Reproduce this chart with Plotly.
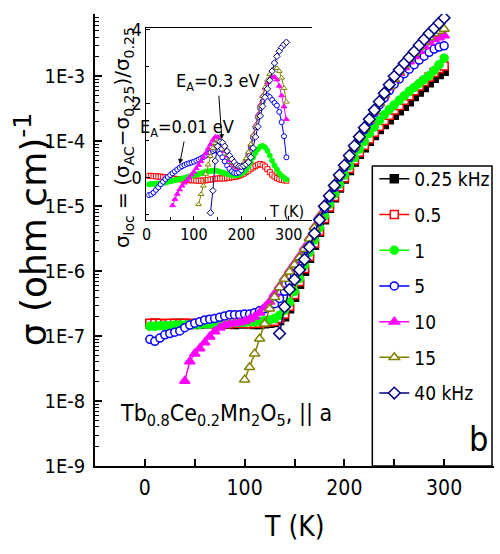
import plotly.graph_objects as go

NARROW = "Liberation Sans Narrow, Arial Narrow, DejaVu Sans Condensed, sans-serif"
WIDE = "DejaVu Sans, Liberation Sans, sans-serif"

# ---------------- main panel data: log10(sigma) vs T ----------------
T_MAIN = [5, 10, 15, 20, 25, 30, 35, 40, 45, 50, 55, 60, 65, 70, 75, 80, 85, 90, 95, 100,
          105, 110, 115, 120, 125, 130, 135, 140, 145, 150, 155, 160, 165, 170, 175, 180, 185, 190, 195, 200,
          205, 210, 215, 220, 225, 230, 235, 240, 245, 250, 255, 260, 265, 270, 275, 280, 285, 290, 295, 300]

LOG_S_025 = [-6.81, -6.80, -6.81, -6.81, -6.82, -6.81, -6.80, -6.81, -6.81, -6.82, -6.81, -6.81, -6.80, -6.81, -6.82,
             -6.81, -6.81, -6.82, -6.81, -6.81, -6.81, -6.82, -6.82, -6.81, -6.80,
             -6.79, -6.76, -6.70, -6.58, -6.40, -6.20, -6.00, -5.80, -5.60, -5.40, -5.21, -5.03, -4.87, -4.72, -4.58,
             -4.45, -4.32, -4.20, -4.10, -4.00, -3.91, -3.82, -3.74, -3.67, -3.60, -3.53, -3.46, -3.39, -3.31, -3.24,
             -3.17, -3.10, -3.03, -2.97, -2.92]
LOG_S_05 = [-6.80, -6.80, -6.80, -6.81, -6.80, -6.80, -6.81, -6.80, -6.80, -6.81, -6.80, -6.80, -6.80, -6.81, -6.80,
            -6.80, -6.81, -6.80, -6.80, -6.80, -6.81, -6.80, -6.80, -6.79, -6.78,
            -6.77, -6.73, -6.66, -6.54, -6.36, -6.16, -5.96, -5.77, -5.57, -5.38, -5.19, -5.01, -4.85, -4.70, -4.56,
            -4.42, -4.29, -4.17, -4.06, -3.96, -3.86, -3.77, -3.68, -3.60, -3.52, -3.45, -3.37, -3.30, -3.22, -3.15,
            -3.08, -3.01, -2.94, -2.88, -2.84]
LOG_S_1 = [-6.85, -6.85, -6.84, -6.84, -6.84, -6.83, -6.83, -6.83, -6.82, -6.82, -6.82, -6.81, -6.81, -6.81, -6.80,
           -6.80, -6.80, -6.79, -6.79, -6.79, -6.78, -6.78, -6.77, -6.76, -6.75,
           -6.73, -6.68, -6.60, -6.48, -6.31, -6.11, -5.91, -5.71, -5.52, -5.33, -5.15, -4.97, -4.81, -4.66, -4.52,
           -4.38, -4.25, -4.12, -4.00, -3.88, -3.78, -3.68, -3.59, -3.51, -3.44, -3.37, -3.30, -3.23, -3.17, -3.11,
           -3.05, -2.99, -2.91, -2.82, -2.72]
LOG_S_5 = [-7.05, -7.08, -7.03, -6.98, -6.96, -6.94, -6.92, -6.87, -6.83, -6.80, -6.78, -6.75, -6.74, -6.73, -6.71,
           -6.69, -6.67, -6.67, -6.67, -6.66, -6.66, -6.64, -6.61, -6.58, -6.55,
           -6.50, -6.42, -6.31, -6.18, -6.05, -5.92, -5.77, -5.60, -5.42, -5.23, -5.04, -4.87, -4.71, -4.55, -4.40,
           -4.25, -4.10, -3.96, -3.82, -3.69, -3.56, -3.44, -3.33, -3.22, -3.12, -3.04, -2.96, -2.89, -2.82, -2.75,
           -2.69, -2.63, -2.58, -2.55, -2.53]
LOG_S_10 = [-7.69, -7.39, -7.27, -7.19, -7.10, -7.01, -6.93, -6.87, -6.83, -6.81,
            -6.80, -6.79, -6.77, -6.74, -6.70, -6.64, -6.56, -6.47, -6.35, -6.23,
            -6.11, -5.99, -5.88, -5.77, -5.64, -5.49, -5.32, -5.15, -4.98, -4.82,
            -4.67, -4.52, -4.38, -4.23, -4.09, -3.95, -3.81, -3.68, -3.55, -3.42,
            -3.29, -3.17, -3.05, -2.95, -2.86, -2.77, -2.69, -2.61, -2.54, -2.48,
            -2.43, -2.40, -2.37]
LOG_S_15 = [-7.67, -7.48, -7.27, -7.04, -6.81, -6.58, -6.40, -6.25, -6.12, -6.01,
            -5.90, -5.79, -5.66, -5.50, -5.33, -5.16, -4.99, -4.83, -4.68, -4.53,
            -4.38, -4.23, -4.09, -3.95, -3.81, -3.67, -3.54, -3.41, -3.28, -3.16,
            -3.04, -2.93, -2.83, -2.73, -2.64, -2.55, -2.47, -2.40, -2.34, -2.30, -2.27]
LOG_S_40 = [-6.96, -6.55, -6.28,
            -6.13, -5.98, -5.82, -5.63, -5.42, -5.21, -5.00, -4.84, -4.68, -4.52,
            -4.37, -4.22, -4.07, -3.93, -3.79, -3.66, -3.52, -3.39, -3.26, -3.13,
            -3.00, -2.90, -2.80, -2.71, -2.62, -2.52, -2.43, -2.34, -2.26, -2.18, -2.10]

# ---------------- inset data: (sigma_AC - sigma_0.25)/sigma_0.25 ----------------
T_INSET = [5, 10, 15, 20, 25, 30, 35, 40, 45, 50, 55, 60, 65, 70, 75, 80, 85, 90, 95, 100,
           105, 110, 115, 120, 125, 130, 135, 140, 145, 150, 155, 160, 165, 170, 175, 180, 185, 190, 195, 200,
           205, 210, 215, 220, 225, 230, 235, 240, 245, 250, 255, 260, 265, 270, 275, 280, 285, 290, 295]

LOC_05 = [0.05, 0.05, 0.04, 0.04, 0.03, 0.03, 0.02, 0.01, 0.00, -0.01, -0.02, -0.03, -0.04, -0.04, -0.05,
          -0.05, -0.06, -0.07, -0.07, -0.07, -0.08, -0.08, -0.08, -0.08, -0.07, -0.06, -0.05, -0.04, -0.03, -0.02,
          -0.02, -0.02, -0.02, -0.01, 0.00, 0.01, 0.02, 0.03, 0.05, 0.08, 0.11, 0.15, 0.19, 0.24, 0.28,
          0.32, 0.35, 0.37, 0.35, 0.30, 0.23, 0.15, 0.08, 0.03, -0.01, -0.04, -0.06, -0.07, -0.08]
LOC_1 = [-0.18, -0.17, -0.17, -0.16, -0.16, -0.15, -0.14, -0.13, -0.11, -0.10, -0.08, -0.07, -0.05, -0.04, -0.02,
         -0.01, 0.01, 0.03, 0.05, 0.06, 0.08, 0.10, 0.12, 0.14, 0.16, 0.17, 0.18, 0.19, 0.19, 0.18,
         0.16, 0.14, 0.12, 0.10, 0.08, 0.07, 0.06, 0.06, 0.08, 0.11, 0.15, 0.20, 0.30, 0.42, 0.55,
         0.67, 0.77, 0.84, 0.86, 0.82, 0.73, 0.60, 0.46, 0.33, 0.22, 0.12, 0.05, 0.00, -0.05]
LOC_5 = [-0.47, -0.45, -0.40, -0.33, -0.26, -0.18, -0.11, -0.04, 0.02, 0.07, 0.12, 0.17, 0.22, 0.27, 0.31,
         0.34, 0.37, 0.39, 0.41, 0.43, 0.46, 0.49, 0.52, 0.56, 0.60, 0.64, 0.68, 0.72, 0.74, 0.72,
         0.65, 0.55, 0.44, 0.33, 0.24, 0.17, 0.13, 0.12, 0.14, 0.20, 0.30, 0.43, 0.60, 0.82, 1.08,
         1.36, 1.63, 1.88, 2.06, 2.18, 2.22, 2.18, 2.10, 2.02, 1.95, 1.78, 1.50, 1.12, 0.55]
LOC_10 = [-0.75, -0.58, -0.44, -0.32, -0.22, -0.14, -0.07, 0.00, 0.08, 0.16,
          0.25, 0.34, 0.44, 0.55, 0.66, 0.78, 0.90, 1.02, 1.10, 1.10,
          1.00, 0.86, 0.72, 0.59, 0.47, 0.38, 0.31, 0.27, 0.26, 0.29,
          0.37, 0.50, 0.68, 0.90, 1.15, 1.42, 1.70, 1.97, 2.22, 2.42,
          2.57, 2.67, 2.72, 2.72, 2.65, 2.48, 2.22, 1.92, 1.58]
LOC_15 = [-0.72, -0.45, -0.22, 0.10, 0.35, 0.58, 0.80, 0.93, 0.99, 0.97,
          0.88, 0.76, 0.63, 0.52, 0.42, 0.35, 0.30, 0.29, 0.32, 0.40,
          0.52, 0.69, 0.90, 1.14, 1.40, 1.67, 1.94, 2.20, 2.44, 2.64,
          2.80, 2.91, 2.96, 2.96, 2.88, 2.70, 2.42, 2.05]
LOC_40 = [-0.95, -0.35, 0.45, 0.85, 0.97, 0.95, 0.85, 0.72, 0.60, 0.50,
          0.42, 0.34, 0.31, 0.30, 0.32, 0.36, 0.42, 0.55, 0.80, 1.10,
          1.38, 1.67, 1.93, 2.17, 2.40, 2.63, 2.88, 3.10, 3.28, 3.42,
          3.52, 3.60, 3.66]

NAMES = ["0.25 kHz", "0.5", "1", "5", "10", "15", "40 kHz"]
COLORS = ["#000000", "#ff0000", "#00ff00", "#0000ff", "#ff00ff", "#808000", "#000080"]
SYMBOLS = ["square", "square", "circle", "circle", "triangle-up", "triangle-up", "diamond"]
FILLED = [True, False, True, False, True, False, False]
SIZES = [8, 8, 8, 8, 9, 9, 9]

main_T = [T_MAIN, T_MAIN, T_MAIN, T_MAIN, T_MAIN[7:], T_MAIN[19:], T_MAIN[26:]]
main_logs = [LOG_S_025, LOG_S_05, LOG_S_1, LOG_S_5, LOG_S_10, LOG_S_15, LOG_S_40]

inset_idx = [1, 2, 3, 4, 5, 6]
inset_T = [T_INSET, T_INSET, T_INSET, T_INSET[10:], T_INSET[21:], T_INSET[26:]]
inset_vals = [LOC_05, LOC_1, LOC_5, LOC_10, LOC_15, LOC_40]

fig = go.Figure()

for i in range(7):
    col = COLORS[i]
    fill = col if FILLED[i] else "white"
    fig.add_trace(go.Scatter(
        x=main_T[i], y=[10 ** v for v in main_logs[i]],
        mode="lines+markers", name=NAMES[i], legendgroup=NAMES[i],
        line=dict(color=col, width=1.5),
        marker=dict(symbol=SYMBOLS[i], size=SIZES[i], color=fill, line=dict(color=col, width=1.5)),
        xaxis="x", yaxis="y", showlegend=True))

for k, i in enumerate(inset_idx):
    col = COLORS[i]
    fill = col if FILLED[i] else "white"
    fig.add_trace(go.Scatter(
        x=inset_T[k], y=inset_vals[k], mode="lines+markers",
        line=dict(color=col, width=1),
        marker=dict(symbol=SYMBOLS[i], size=5, color=fill, line=dict(color=col, width=1)),
        xaxis="x2", yaxis="y2", showlegend=False, hoverinfo="skip"))

minor_y = [m * 10 ** e for e in range(-9, -2) for m in range(2, 10)]

fig.update_layout(
    width=500, height=554,
    margin=dict(l=95, r=5, t=8, b=88),
    paper_bgcolor="white", plot_bgcolor="white",
    font=dict(family=NARROW, color="black"),
    xaxis=dict(range=[-50, 350], showline=True, linecolor="black", linewidth=1.5,
               ticks="inside", ticklen=7, tickwidth=1.5, tickcolor="black",
               tickmode="array", tickvals=[0, 100, 200, 300],
               minor=dict(tickmode="array", tickvals=[50, 150, 250], ticks="inside", ticklen=7,
                          tickwidth=1.5, tickcolor="black", showgrid=False),
               showgrid=False, zeroline=False, ticklabelstandoff=2,
               tickfont=dict(family=NARROW, size=21, color="black")),
    yaxis=dict(type="log", range=[-9, -2.04], showline=True, linecolor="black", linewidth=1.5,
               ticks="inside", ticklen=7, tickwidth=1.5, tickcolor="black",
               tickmode="array", tickvals=[1e-9, 1e-8, 1e-7, 1e-6, 1e-5, 1e-4, 1e-3],
               ticktext=["1E-9", "1E-8", "1E-7", "1E-6", "1E-5", "1E-4", "1E-3"],
               minor=dict(tickmode="array", tickvals=minor_y, ticks="inside", ticklen=4,
                          tickwidth=1, tickcolor="black", showgrid=False),
               showgrid=False, zeroline=False, ticklabelstandoff=4,
               tickfont=dict(family=NARROW, size=20, color="black")),
    xaxis2=dict(domain=[0.129, 0.545], anchor="y2", range=[0, 350], showline=True, mirror=True,
                linecolor="black", linewidth=1, ticks="inside", ticklen=4, tickcolor="black",
                tickmode="array", tickvals=[0, 100, 200, 300],
                minor=dict(tickmode="array", tickvals=[50, 150, 250], ticks="inside", ticklen=3,
                           tickcolor="black", showgrid=False),
                showgrid=False, zeroline=False, tickfont=dict(family=NARROW, size=16, color="black")),
    yaxis2=dict(domain=[0.5437, 0.9694], anchor="x2", range=[-1.15, 4.05], showline=True,
                linecolor="black", linewidth=1, ticks="inside", ticklen=4, tickcolor="black",
                tickmode="array", tickvals=[0, 2, 4],
                minor=dict(tickmode="array", tickvals=[-1, 1, 3], ticks="inside", ticklen=3,
                           tickcolor="black", showgrid=False),
                showgrid=False, zeroline=False, tickfont=dict(family=NARROW, size=18, color="black")),
    legend=dict(x=0.70, y=0.677, xanchor="left", yanchor="top",
                font=dict(family=NARROW, size=19, color="black"),
                bgcolor="rgba(0,0,0,0)", borderwidth=0, tracegroupgap=8),
    showlegend=True,
)

fig.add_shape(type="rect", xref="paper", yref="paper", x0=0.695, x1=0.995, y0=0.0, y1=0.6638,
              line=dict(color="black", width=1.5), fillcolor="rgba(0,0,0,0)", layer="below")

ann = [
    dict(text="T (K)", xref="paper", yref="paper", x=0.5, y=-0.133, showarrow=False,
         font=dict(family=NARROW, size=28), xanchor="center", yanchor="middle"),
    dict(text="σ (ohm cm)<sup>-1</sup>", xref="paper", yref="paper", x=-0.16, y=0.524,
         showarrow=False, textangle=-90, font=dict(family=WIDE, size=36),
         xanchor="center", yanchor="middle"),
    dict(text="σ<sub>loc</sub> = (σ<sub>AC</sub>−σ<sub>0.25</sub>)/σ<sub>0.25</sub>", xref="paper",
         yref="paper", x=0.072, y=0.727, showarrow=False, textangle=-90,
         font=dict(family=WIDE, size=20), xanchor="center", yanchor="middle"),
    dict(text="Tb<sub>0.8</sub>Ce<sub>0.2</sub>Mn<sub>2</sub>O<sub>5</sub>, || a", xref="paper",
         yref="paper", x=0.0575, y=0.1135, showarrow=False, font=dict(family=NARROW, size=23),
         xanchor="left", yanchor="middle"),
    dict(text="b", xref="paper", yref="paper", x=0.96, y=0.06, showarrow=False,
         font=dict(family=NARROW, size=34), xanchor="center", yanchor="middle"),
    dict(text="T (K)", xref="x2", yref="y2", x=295, y=-0.91, showarrow=False,
         font=dict(family=NARROW, size=16), xanchor="center", yanchor="middle"),
    dict(text="E<sub>A</sub>=0.3 eV", xref="x2", yref="y2", x=159, y=1.04, ax=-4, ay=-57,
         showarrow=True, arrowhead=2, arrowsize=1, arrowwidth=1, arrowcolor="black",
         font=dict(family=NARROW, size=18)),
    dict(text="E<sub>A</sub>=0.01 eV", xref="x2", yref="y2", x=70, y=0.37, ax=7, ay=-36,
         showarrow=True, arrowhead=2, arrowsize=1, arrowwidth=1, arrowcolor="black",
         font=dict(family=NARROW, size=18)),
]
for a in ann:
    fig.add_annotation(**a)

fig.write_html("out.html")
